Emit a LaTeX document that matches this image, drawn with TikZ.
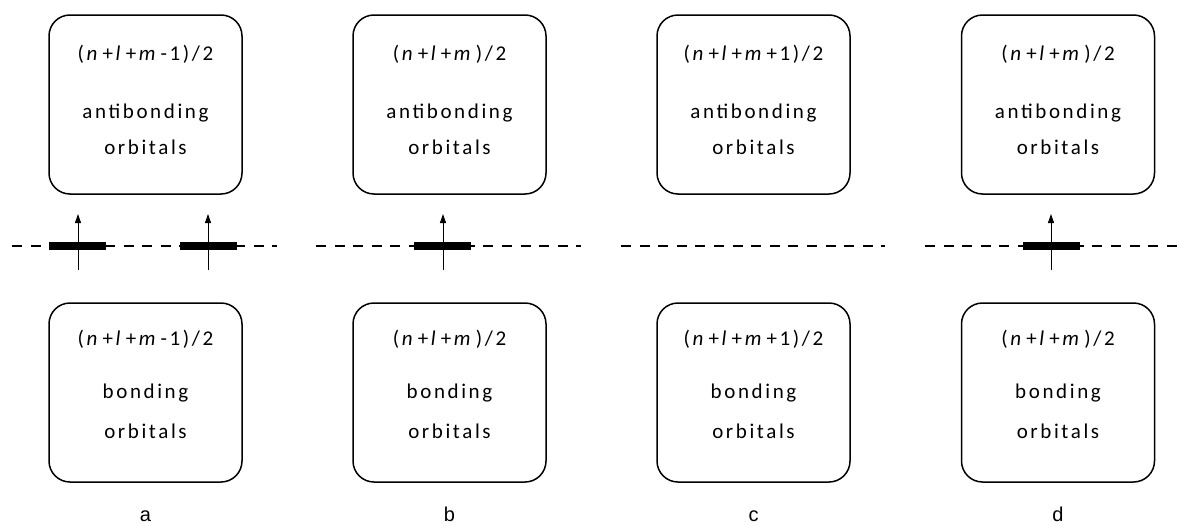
\documentclass[tikz,border=0pt]{standalone}
\usepackage{fontspec}
\usetikzlibrary{arrows.meta}
\newfontfamily\boxfont{Carlito}[LetterSpace=12.5]
\newfontfamily\labfont{Liberation Sans}
\newcommand\iv[1]{\kern2.6pt\textit{#1}\kern2.6pt}
\tikzset{
  orbbox/.style={draw, line width=1.5pt, rounded corners=21pt, minimum width=193pt, minimum height=179pt, inner sep=0pt},
  txt/.style={anchor=base, inner sep=0pt, font=\boxfont\fontsize{21}{24}\selectfont},
  lab/.style={anchor=base, inner sep=0pt, font=\labfont\fontsize{20}{22}\selectfont},
  level/.style={line width=1.8pt, dash pattern=on 10pt off 8.6pt},
  bar/.style={fill=black, minimum width=57pt, minimum height=8pt, inner sep=0pt},
  spin/.style={line width=0.9pt, -{Triangle[width=6pt,length=9pt]}}
}
\begin{document}
\begin{tikzpicture}[x=1pt,y=-1pt]
\useasboundingbox (0,0) rectangle (1181,525);
% boxes
\foreach \n/\cx in {a/145.5,b/449.5,c/753.5,d/1058}{
  \node[orbbox] (top\n) at (\cx,104.5) {};
  \node[orbbox] (bot\n) at (\cx,392.5) {};
  \node[txt] (anti\n) at (\cx,118) {antibonding};
  \node[txt] (orbt\n) at (\cx,154) {orbitals};
  \node[txt] (bond\n) at (\cx,398) {bonding};
  \node[txt] (orbb\n) at (\cx,438) {orbitals};
  \node[lab] (lab\n) at (\cx,521) {\n};
}
\node[txt] (fta) at (145.5,60) {(\iv{n}+\iv{l}+\iv{m}-1)/2};
\node[txt] (ftb) at (449.5,60) {(\iv{n}+\iv{l}+\iv{m})/2};
\node[txt] (ftc) at (753.5,60) {(\iv{n}+\iv{l}+\iv{m}+1)/2};
\node[txt] (ftd) at (1058,60) {(\iv{n}+\iv{l}+\iv{m})/2};
\node[txt] (fba) at (145.5,345) {(\iv{n}+\iv{l}+\iv{m}-1)/2};
\node[txt] (fbb) at (449.5,345) {(\iv{n}+\iv{l}+\iv{m})/2};
\node[txt] (fbc) at (753.5,345) {(\iv{n}+\iv{l}+\iv{m}+1)/2};
\node[txt] (fbd) at (1058,345) {(\iv{n}+\iv{l}+\iv{m})/2};
% dashed levels
\coordinate (la1) at (12,246);  \coordinate (la2) at (277,246);
\coordinate (lb1) at (316,246); \coordinate (lb2) at (581,246);
\coordinate (lc1) at (621,246); \coordinate (lc2) at (885,246);
\coordinate (ld1) at (925,246); \coordinate (ld2) at (1190,246);
\draw[level] (la1) -- (la2);
\draw[level] (lb1) -- (lb2);
\draw[level] (lc1) -- (lc2);
\draw[level] (ld1) -- (ld2);
% occupied levels
\node[bar] (ba1) at (77.5,246) {};
\node[bar] (ba2) at (208,246) {};
\node[bar] (bb) at (442.5,246) {};
\node[bar] (bd) at (1051,246) {};
\foreach \b/\x in {ba1/78,ba2/208,bb/443,bd/1051}{
  \coordinate (\b s) at (\x,270);
  \coordinate (\b e) at (\x,214);
  \draw[spin] (\b s) -- (\b e);
}
\end{tikzpicture}
\end{document}
